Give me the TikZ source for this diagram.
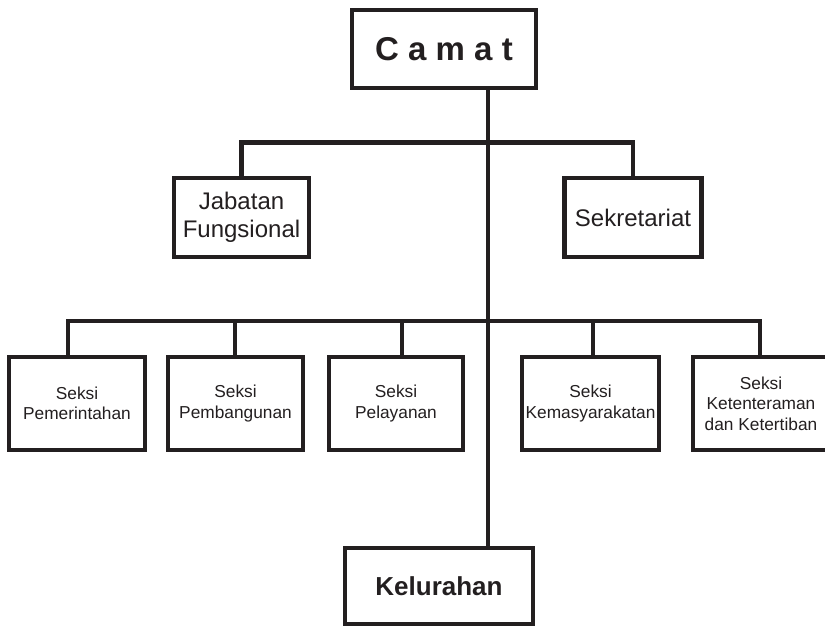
\documentclass[tikz,border=0pt]{standalone}
\usepackage{fontspec}
\setmainfont{Liberation Sans}
\definecolor{ink}{HTML}{231F20}
\begin{document}
\begin{tikzpicture}[x=1pt,y=-1pt,
  box/.style={draw=ink, text=ink, rectangle, line width=4.5pt, inner sep=0pt, outer sep=0pt, align=center, fill=white},
  seksibox/.style={box, minimum height=93pt, font=\fontsize{17.3}{20.5}\selectfont},
  midbox/.style={box, minimum width=135pt, minimum height=79pt, font=\fontsize{24}{28}\selectfont},
  conn/.style={draw=ink, line width=4.5pt, line join=miter}]
\useasboundingbox (0,0) rectangle (825,628);
% nodes
\node[box, minimum width=184pt, minimum height=78pt, font=\fontsize{33}{36}\selectfont\bfseries] (camat) at (444,49) {C a m a t};
\node[midbox] (jab) at (241.5,217.5) {Jabatan\\Fungsional};
\node[midbox, minimum width=137pt] (sek) at (633,217.5) {Sekretariat};
\node[seksibox, minimum width=136pt] (s1) at (77,403.5) {Seksi\\Pemerintahan};
\node[seksibox, minimum width=135pt] (s2) at (235.5,403.5) {Seksi\\Pembangunan};
\node[seksibox, minimum width=134pt] (s3) at (396,403.5) {Seksi\\Pelayanan};
\node[seksibox, minimum width=137pt] (s4) at (590.5,403.5) {Seksi\\Kemasyarakatan};
\node[seksibox, minimum width=136pt] (s5) at (761,403.5) {Seksi\\Ketenteraman\\dan Ketertiban};
\node[box, minimum width=188pt, minimum height=76pt, font=\fontsize{26}{30}\selectfont\bfseries] (kel) at (439,586) {Kelurahan};
% helper coordinates
\coordinate (spine) at (488,0);
\coordinate (b1) at (0,142.5);
\coordinate (d1) at (68,321);
\coordinate (d2) at (235,321);
\coordinate (d3) at (402,321);
\coordinate (d4) at (593,321);
\coordinate (d5) at (760,321);
% connectors
\draw[conn] (camat.south -| spine) -- (kel.north -| spine);
\draw[conn] (jab.north) -- (jab.north |- b1) -- (sek.north |- b1) -- (sek.north);
\draw[conn] (s1.north -| d1) -- (d1) -- (d5) -- (s5.north -| d5);
\draw[conn] (d2) -- (s2.north -| d2);
\draw[conn] (d3) -- (s3.north -| d3);
\draw[conn] (d4) -- (s4.north -| d4);
\end{tikzpicture}
\end{document}
